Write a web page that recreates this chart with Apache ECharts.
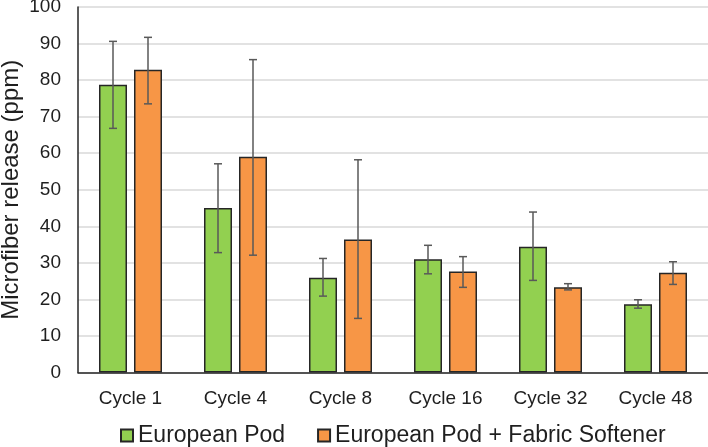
<!DOCTYPE html>
<html>
<head>
<meta charset="utf-8">
<script src="https://cdn.jsdelivr.net/npm/echarts@6/dist/echarts.min.js"></script>
<style>
html,body{margin:0;padding:0;background:#fff;}
#chart{width:708px;height:447px;}
</style>
</head>
<body>
<div id="chart"></div>
<script>
var categories = ['Cycle 1', 'Cycle 4', 'Cycle 8', 'Cycle 16', 'Cycle 32', 'Cycle 48'];
var podMean = [78.7, 45.0, 25.9, 31.0, 34.4, 18.7];
var podLow = [66.8, 32.8, 20.9, 27.0, 25.2, 17.6];
var podHigh = [90.6, 57.1, 31.2, 34.8, 43.9, 19.9];
var softMean = [82.8, 59.0, 36.4, 27.6, 23.3, 27.3];
var softLow = [73.5, 32.1, 14.8, 23.3, 22.6, 24.1];
var softHigh = [91.7, 85.6, 58.2, 31.7, 24.3, 30.3];
var seriesNames = ['European Pod', 'European Pod + Fabric Softener'];
var yTicks = [0, 10, 20, 30, 40, 50, 60, 70, 80, 90, 100];

var FONT = 'Liberation Sans, Arial, sans-serif';
var TEXT = '#1f1f1f';

function errData(low, high) {
  return categories.map(function (c, i) { return [i, low[i], high[i]]; });
}
function errRender(offset) {
  return function (params, api) {
    var i = api.value(0);
    var lo = api.coord([i, api.value(1)]);
    var hi = api.coord([i, api.value(2)]);
    var x = lo[0] + offset;
    var cap = 4;
    var style = { stroke: '#595959', lineWidth: 1.5 };
    return {
      type: 'group',
      children: [
        { type: 'line', shape: { x1: x, y1: hi[1], x2: x, y2: lo[1] }, style: style },
        { type: 'line', shape: { x1: x - cap, y1: hi[1], x2: x + cap, y2: hi[1] }, style: style },
        { type: 'line', shape: { x1: x - cap, y1: lo[1], x2: x + cap, y2: lo[1] }, style: style }
      ]
    };
  };
}

var chart = echarts.init(document.getElementById('chart'), null, { renderer: 'canvas' });
chart.setOption({
  animation: false,
  backgroundColor: '#ffffff',
  textStyle: { fontFamily: FONT },
  grid: { left: 78, right: 0, top: 7, bottom: 74.5, containLabel: false, outerBoundsMode: 'none' },
  legend: {
    data: seriesNames,
    top: 419,
    left: 115,
    itemWidth: 12,
    itemHeight: 12,
    itemGap: 32,
    icon: 'rect',
    textStyle: { fontFamily: FONT, fontSize: 23, color: TEXT }
  },
  xAxis: {
    type: 'category',
    data: categories,
    axisLine: { lineStyle: { color: '#262626', width: 1.5 } },
    axisTick: { show: false },
    axisLabel: { fontFamily: FONT, fontSize: 19, color: TEXT, margin: 17 }
  },
  yAxis: {
    type: 'value',
    min: yTicks[0],
    max: yTicks[yTicks.length - 1],
    interval: yTicks[1] - yTicks[0],
    name: 'Microfiber release (ppm)',
    nameLocation: 'middle',
    nameGap: 55,
    nameMoveOverlap: false,
    nameTextStyle: { fontFamily: FONT, fontSize: 24, color: TEXT },
    axisLine: { show: true, lineStyle: { color: '#262626', width: 1.5 } },
    axisTick: { show: false },
    axisLabel: { fontFamily: FONT, fontSize: 19, color: TEXT, margin: 17 },
    splitLine: { lineStyle: { color: '#d9d9d9', width: 1.5 } }
  },
  series: [
    {
      name: seriesNames[0],
      type: 'bar',
      data: podMean,
      barWidth: 28,
      barGap: '25%',
      itemStyle: { color: '#92d050', borderColor: '#262626', borderWidth: 1.5 }
    },
    {
      name: seriesNames[1],
      type: 'bar',
      data: softMean,
      barWidth: 28,
      barGap: '25%',
      itemStyle: { color: '#f79646', borderColor: '#262626', borderWidth: 1.5 }
    },
    {
      type: 'custom',
      name: 'errPod',
      z: 10,
      renderItem: errRender(-17.5),
      data: errData(podLow, podHigh),
      encode: { x: 0, y: [1, 2] }
    },
    {
      type: 'custom',
      name: 'errSoft',
      z: 10,
      renderItem: errRender(17.5),
      data: errData(softLow, softHigh),
      encode: { x: 0, y: [1, 2] }
    }
  ]
});
</script>
</body>
</html>
